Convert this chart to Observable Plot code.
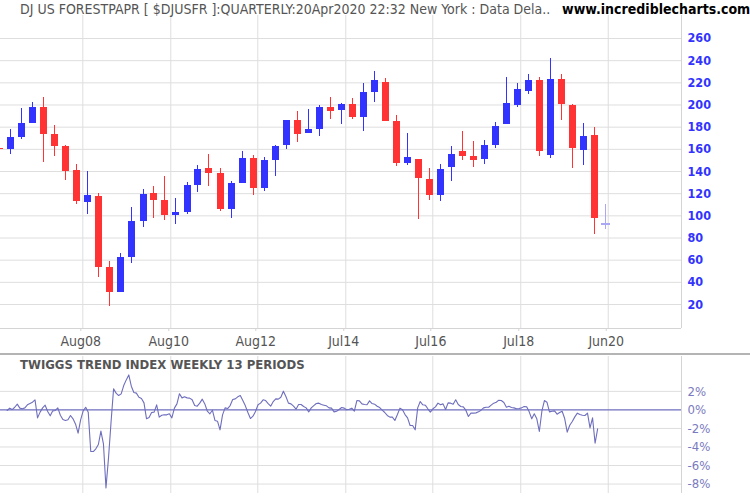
<!DOCTYPE html>
<html>
<head>
<meta charset="utf-8">
<script src="https://cdn.jsdelivr.net/npm/d3@7"></script>
<script src="https://cdn.jsdelivr.net/npm/@observablehq/plot@0.6"></script>
<style>
html,body{margin:0;padding:0;background:#fff;}
#wrap{position:relative;width:750px;height:500px;overflow:hidden;font-family:"Liberation Sans Narrow","Arial Narrow","DejaVu Sans Condensed",sans-serif;}
#hdr{position:absolute;left:20px;top:1px;font-size:14px;line-height:16px;color:#555;white-space:nowrap;}
#site{position:absolute;left:562px;top:1px;font-size:14px;line-height:16px;font-weight:bold;color:#000;white-space:nowrap;}
#main{position:absolute;left:0;top:15px;}
#sep{position:absolute;left:0;top:353px;width:750px;height:2px;background:#b4b4b4;}
#lower{position:absolute;left:0;top:356px;}
#ltitle{position:absolute;left:20px;top:357px;font-size:13px;line-height:15px;font-weight:bold;color:#555;white-space:nowrap;}
svg{display:block;}
</style>
</head>
<body>
<div id="wrap">
  <div id="main"></div>
  <div id="sep"></div>
  <div id="lower"></div>
  <div id="hdr">DJ US FORESTPAPR [ $DJUSFR ]:QUARTERLY:20Apr2020 22:32 New York : Data Dela..</div>
  <div id="site">www.incrediblecharts.com</div>
  <div id="ltitle">TWIGGS TREND INDEX WEEKLY 13 PERIODS</div>
</div>
<script>
// ---------- DATA ----------
const quarters = ["2006Q3","2006Q4","2007Q1","2007Q2","2007Q3","2007Q4","2008Q1","2008Q2","2008Q3","2008Q4",
  "2009Q1","2009Q2","2009Q3","2009Q4","2010Q1","2010Q2","2010Q3","2010Q4","2011Q1","2011Q2",
  "2011Q3","2011Q4","2012Q1","2012Q2","2012Q3","2012Q4","2013Q1","2013Q2","2013Q3","2013Q4",
  "2014Q1","2014Q2","2014Q3","2014Q4","2015Q1","2015Q2","2015Q3","2015Q4","2016Q1","2016Q2",
  "2016Q3","2016Q4","2017Q1","2017Q2","2017Q3","2017Q4","2018Q1","2018Q2","2018Q3","2018Q4",
  "2019Q1","2019Q2","2019Q3","2019Q4","2020Q1","2020Q2"];
const opens = [160.8,160.1,170.7,183.3,197.7,173.4,162.6,140.9,112.3,117.4,
  53.4,31.1,62.7,95.2,120.1,113.8,100.6,103.3,127.6,142.7,
  138.2,106.0,129.4,151.7,124.9,150.2,163.7,186.0,174.6,178.2,
  197.7,195.3,200.5,189.0,211.5,220.3,185.1,147.5,150.8,132.8,
  118.6,143.9,158.0,153.5,151.1,163.7,182.7,199.8,212.5,222.1,
  154.7,223.0,199.5,159.2,172.5,92.4];
const highs = [160.8,177.9,196.8,202.3,206.8,181.5,163.5,146.3,140.0,119.9,
  58.8,66.0,107.5,123.8,126.5,135.5,115.6,130.1,145.4,155.3,
  142.7,131.0,158.0,154.4,152.6,163.5,186.0,194.1,195.9,199.5,
  206.8,201.4,205.9,219.4,230.2,223.9,190.5,174.3,150.8,142.7,
  146.3,162.6,176.1,167.1,168.0,184.2,224.8,219.4,227.5,224.8,
  242.0,227.5,200.4,183.3,179.7,110.2];
const lows = [160.2,155.6,169.0,183.3,148.4,153.8,132.1,110.5,101.5,44.6,
  18.5,30.5,57.3,89.7,97.9,96.1,92.4,101.5,121.3,126.7,
  104.2,97.9,129.4,118.6,122.2,135.8,160.1,166.4,174.6,171.8,
  187.2,182.7,187.2,176.4,202.5,185.4,144.8,145.7,97.0,114.1,
  113.2,131.2,150.2,143.9,146.6,161.0,182.7,198.0,209.7,153.8,
  152.0,186.3,143.0,145.7,83.4,87.9];
const closes = [160.2,170.7,183.3,197.7,173.4,162.8,140.3,113.2,118.3,53.6,
  31.1,62.4,94.9,119.2,114.1,100.6,103.0,127.4,141.8,138.5,
  106.0,129.2,151.7,124.9,149.9,162.6,186.0,173.7,177.9,197.7,
  194.4,200.5,189.0,211.3,222.1,185.4,147.5,152.6,134.0,118.6,
  141.8,155.3,153.8,150.2,163.5,180.6,201.4,214.0,222.1,158.3,
  223.0,200.7,161.0,171.6,97.9,92.6];

const priceTicks = [20,40,60,80,100,120,140,160,180,200,220,240,260];
const tickDates = ["2008-08-19","2010-08-18","2012-08-08","2014-08-07","2016-07-28","2018-07-27","2020-07-21"];
const tickLabels = ["Aug08","Aug10","Aug12","Jul14","Jul16","Jul18","Jun20"];
const pctTicks = [2,0,-2,-4,-6,-8];

// Twiggs Trend Index (weekly, read every 3 weeks from the picture), %
const twiggsStart = "2006-12-01";
const twiggsStepDays = 21;
const twiggsValues = [
  -0.06,0.19,0.04,0.29,0.62,0.19,0.12,0.22,0.55,0.69,
  0.83,1.09,-0.86,-0.24,0.22,0.51,-0.17,-0.64,-0.10,-0.06,
  0.22,-0.57,-1.04,-1.14,-1.07,-0.60,-0.96,-1.54,-2.51,-1.07,
  -0.10,0.29,-0.24,-4.49,-4.49,-4.20,-3.73,-2.29,-3.66,-8.42,
  -5.18,-1.33,2.27,1.81,1.55,1.73,2.63,3.24,3.78,2.56,
  1.88,1.81,1.37,1.23,0.76,-0.96,-0.82,-0.28,-0.24,0.55,
  -0.78,-0.57,-0.53,-0.53,-0.42,-0.86,0.19,
  0.65,1.75,1.30,1.41,1.30,1.27,1.09,0.47,0.40,0.73,
  1.16,0.65,-0.14,-0.42,-0.03,-1.14,-1.22,-2.15,-0.53,0.22,
  0.15,0.47,1.12,1.19,1.41,1.55,1.01,0.44,-0.28,-0.93,
  -0.68,-0.17,0.55,0.73,1.09,1.01,0.69,0.40,0.90,1.19,
  1.16,1.37,2.02,1.44,0.73,0.65,0.40,0.08,0.58,0.58,
  0.37,0.22,-0.21,0.22,0.47,0.69,0.73,0.58,0.51,0.44,
  0.22,0.19,-0.21,-0.14,0.04,0.26,0.19,
  0.01,0.08,0.19,-0.14,1.01,0.98,0.65,0.58,0.55,0.98,
  0.69,0.62,0.40,0.26,-0.03,-0.28,-0.60,-0.78,-0.78,-1.14,
  -0.50,0.19,0.01,-0.50,-0.86,-1.68,-1.68,-2.15,0.22,0.91,
  0.55,0.51,0.12,-0.24,0.12,0.33,0.73,0.55,0.65,0.04,
  0.76,0.73,0.62,1.09,0.58,0.37,0.33,-0.03,-0.71,-0.35,
  -0.35,-0.32,-0.21,-0.03,0.22,0.29,0.29,0.51,0.73,0.83,
  1.05,1.01,0.80,0.29,0.40,0.26,0.22,
  0.12,0.15,0.22,0.37,0.33,-0.21,-0.96,-0.42,-0.96,-2.33,
  -0.14,1.01,0.83,-0.21,-0.14,-0.10,-0.46,-0.28,-0.14,-0.93,
  -2.40,-1.65,-1.25,-0.75,-0.35,-0.50,-0.57,-0.60,-0.35,-1.94,
  -0.86,-3.60,-2.04
];

// ---------- BUILD ----------
const FONT = '"Liberation Sans Narrow","Arial Narrow","DejaVu Sans Condensed",sans-serif';
const UP = "#3333ff", DOWN = "#ff3333", LIVE = "#a8a8f4";
const GRID = "#dedede", BORDER = "#d4d4d4", LINE = "#6e6ebe";

const qEnd = q => new Date(Date.UTC(+q.slice(0, 4), +q.slice(5) * 3, 0));
const candles = quarters.map((q, i) => ({
  date: qEnd(q), open: opens[i], high: highs[i], low: lows[i], close: closes[i],
  live: i === quarters.length - 1
}));
const done = candles.filter(d => !d.live);
const live = candles.filter(d => d.live);
const col = d => d.close >= d.open ? UP : DOWN;

const xDomain = [new Date(Date.UTC(2006, 9, 7)), new Date(Date.UTC(2022, 2, 20))];
const tDates = tickDates.map(s => new Date(s + "T00:00:00Z"));
const labelOf = new Map(tDates.map((d, i) => [+d, tickLabels[i]]));
const yMain = [-1.65, 280.75];

const main = Plot.plot({
  width: 750, height: 339,
  marginTop: 0, marginBottom: 26, marginLeft: 0, marginRight: 69,
  style: {fontFamily: FONT, fontSize: "14px", background: "white"},
  x: {type: "utc", domain: xDomain, label: null},
  y: {domain: yMain, label: null},
  marks: [
    Plot.gridY(priceTicks, {stroke: GRID, strokeOpacity: 1}),
    Plot.gridX(tDates, {stroke: GRID, strokeOpacity: 1}),
    Plot.ruleY([yMain[0]], {stroke: BORDER}),
    Plot.ruleX([xDomain[1]], {stroke: BORDER}),
    Plot.axisY(priceTicks, {anchor: "right", tickSize: 0, tickPadding: 6, fill: "#3333ff", fontWeight: "bold", fontSize: 12.5}),
    Plot.axisX(tDates, {anchor: "bottom", tickSize: 3, tickPadding: 5, stroke: BORDER, fill: "#555", fontSize: 14, dx: -2,
      tickFormat: d => labelOf.get(+d)}),
    Plot.ruleX(done, {x: "date", y1: "low", y2: "high", stroke: col, strokeWidth: 1, shapeRendering: "crispEdges"}),
    Plot.ruleX(done, {x: "date", y1: "open", y2: "close", stroke: col, strokeWidth: 7, shapeRendering: "crispEdges"}),
    Plot.ruleX(live, {x: "date", y1: "low", y2: "high", stroke: LIVE, strokeWidth: 1, shapeRendering: "crispEdges"}),
    Plot.ruleY(live, {y: "close", x1: d => d3.utcDay.offset(d.date, -37), x2: d => d3.utcDay.offset(d.date, 37),
      stroke: LIVE, strokeWidth: 2, shapeRendering: "crispEdges"})
  ]
});
document.getElementById("main").appendChild(main);

const t0 = new Date(twiggsStart + "T00:00:00Z");
const twiggs = twiggsValues.map((v, i) => ({date: d3.utcDay.offset(t0, twiggsStepDays * i), v}));
const yLow = [-9.02, 5.764];

const lower = Plot.plot({
  width: 750, height: 144,
  marginTop: 0, marginBottom: 7, marginLeft: 0, marginRight: 69,
  style: {fontFamily: FONT, fontSize: "14px", background: "transparent"},
  x: {type: "utc", domain: xDomain, axis: null, label: null},
  y: {domain: yLow, label: null},
  marks: [
    Plot.gridY(pctTicks.filter(v => v !== 0), {stroke: GRID, strokeOpacity: 1}),
    Plot.gridX(tDates, {stroke: GRID, strokeOpacity: 1}),
    Plot.ruleX([xDomain[1]], {stroke: BORDER}),
    Plot.ruleY([0], {stroke: LINE, strokeWidth: 1.2}),
    Plot.axisY(pctTicks, {anchor: "right", tickSize: 0, tickPadding: 6, fill: "#7a7ac0", fontSize: 13,
      tickFormat: d => d + "%"}),
    Plot.lineY(twiggs, {x: "date", y: "v", stroke: LINE, strokeWidth: 1.1})
  ]
});
document.getElementById("lower").appendChild(lower);
</script>
</body>
</html>
